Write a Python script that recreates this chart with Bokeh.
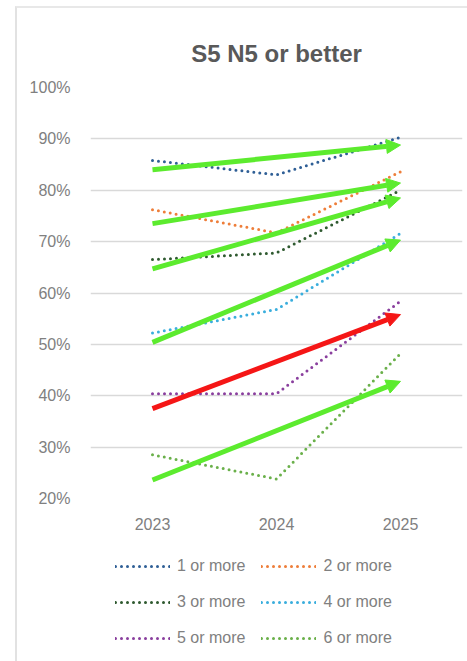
from bokeh.plotting import figure
from bokeh.layouts import column
from bokeh.models import (Legend, LegendItem, Arrow, NormalHead, FixedTicker,
                          NumeralTickFormatter, Range1d, Title)
from bokeh.embed import file_html
from bokeh.resources import INLINE

years = [2023, 2024, 2025]
series_names = ["1 or more", "2 or more", "3 or more", "4 or more", "5 or more", "6 or more"]
one_or_more = [0.858, 0.830, 0.903]
two_or_more = [0.762, 0.717, 0.836]
three_or_more = [0.665, 0.678, 0.800]
four_or_more = [0.522, 0.568, 0.716]
five_or_more = [0.404, 0.404, 0.584]
six_or_more = [0.285, 0.238, 0.482]
series_values = [one_or_more, two_or_more, three_or_more, four_or_more, five_or_more, six_or_more]
series_colors = ["#2F5F96", "#EE7E3A", "#2F5A30", "#3AAEDD", "#8A3F9E", "#6AB04A"]

# trend arrows (start 2023 -> end 2025)
arrow_start = [0.840, 0.735, 0.647, 0.504, 0.375, 0.236]
arrow_end = [0.888, 0.814, 0.785, 0.703, 0.558, 0.428]
arrow_colors = ["#5CEB2E", "#5CEB2E", "#5CEB2E", "#5CEB2E", "#F51616", "#5CEB2E"]

y_ticks = [0.2, 0.3, 0.4, 0.5, 0.6, 0.7, 0.8, 0.9, 1.0]

FONT = "Liberation Sans"
GRAY = "#808080"

# ---------- main chart ----------
p = figure(width=452, height=534, output_backend="svg", toolbar_location=None,
           x_range=Range1d(2022.5, 2025.5), y_range=Range1d(0.2, 1.0),
           min_border_left=73, min_border_right=7, min_border_top=79,
           min_border_bottom=44)
p.outline_line_color = None
p.background_fill_color = "white"
p.border_fill_color = "white"

p.add_layout(Title(text="S5 N5 or better", align="center", offset=-26,
                   text_font=FONT, text_font_size="24px", text_font_style="bold",
                   text_color="#595959", standoff=42), "above")

p.xaxis.ticker = FixedTicker(ticks=years)
p.yaxis.ticker = FixedTicker(ticks=y_ticks)
p.yaxis.formatter = NumeralTickFormatter(format="0%")
for ax in (p.xaxis, p.yaxis):
    ax.axis_line_color = None
    ax.major_tick_line_color = None
    ax.minor_tick_line_color = None
    ax.major_label_text_font = FONT
    ax.major_label_text_font_size = "16px"
    ax.major_label_text_color = GRAY
p.yaxis.major_label_standoff = 14
p.xaxis.major_label_standoff = 13
p.xgrid.grid_line_color = None
p.ygrid.grid_line_color = "#D9D9D9"
p.ygrid.grid_line_width = 1.5

line_kw = dict(line_width=3, line_dash="0 6", line_cap="round")
for vals, col in zip(series_values, series_colors):
    p.line(years, vals, line_color=col, **line_kw)

for s, e, c in zip(arrow_start, arrow_end, arrow_colors):
    p.add_layout(Arrow(x_start=years[0], y_start=s, x_end=years[-1], y_end=e,
                       line_color=c, line_width=5,
                       end=NormalHead(size=14, fill_color=c, line_color=c, line_width=1)))

# ---------- legend strip ----------
q = figure(width=452, height=121, output_backend="svg", toolbar_location=None,
           x_range=Range1d(2022.5, 2025.5), y_range=Range1d(5, 6),
           min_border_left=0, min_border_right=0, min_border_top=0,
           min_border_bottom=0)
q.axis.visible = False
q.grid.grid_line_color = None
q.outline_line_color = None
q.background_fill_color = "white"
q.border_fill_color = "white"

leg_renderers = []
for vals, col in zip(series_values, series_colors):
    leg_renderers.append(q.line(years, vals, line_color=col, **line_kw))

items = [LegendItem(label=n, renderers=[r]) for n, r in zip(series_names, leg_renderers)]
legend = Legend(items=items, location=(25, 15), orientation="horizontal", ncols=2,
                glyph_width=55, glyph_height=20, label_height=20, spacing=16,
                label_standoff=7, padding=0, margin=0,
                border_line_color=None, background_fill_alpha=0,
                label_text_font=FONT, label_text_font_size="16px",
                label_text_color=GRAY)
q.add_layout(legend)

layout = column(p, q, spacing=0, margin=(6, 0, 0, 15),
                styles={"border-left": "2px solid #e2e2e2",
                        "border-top": "2px solid #e8e8e8"})

open("out.html", "w").write(file_html(layout, INLINE))
